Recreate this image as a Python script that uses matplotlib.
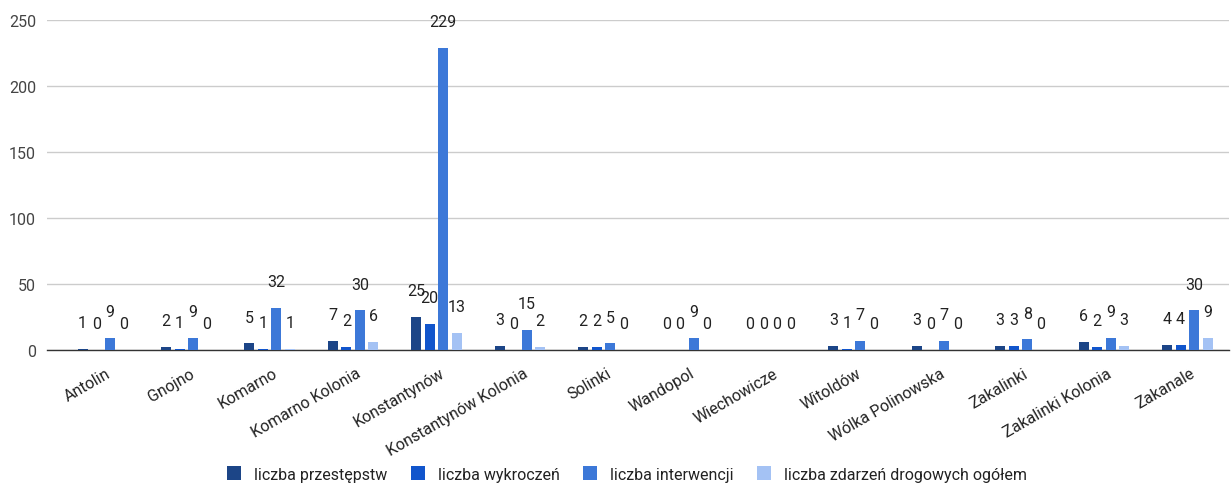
import matplotlib
matplotlib.use("Agg")
import matplotlib.pyplot as plt
import matplotlib.transforms as mtransforms
import numpy as np

categories = ["Antolin", "Gnojno", "Komarno", "Komarno Kolonia", "Konstantynów",
              "Konstantynów Kolonia", "Solinki", "Wandopol", "Wiechowicze", "Witoldów",
              "Wólka Polinowska", "Zakalinki", "Zakalinki Kolonia", "Zakanale"]
series_names = ["liczba przestępstw", "liczba wykroczeń", "liczba interwencji",
                "liczba zdarzeń drogowych ogółem"]
przestepstwa = [1, 2, 5, 7, 25, 3, 2, 0, 0, 3, 3, 3, 6, 4]
wykroczenia = [0, 1, 1, 2, 20, 0, 2, 0, 0, 1, 0, 3, 2, 4]
interwencje = [9, 9, 32, 30, 229, 15, 5, 9, 0, 7, 7, 8, 9, 30]
zdarzenia = [0, 0, 1, 6, 13, 2, 0, 0, 0, 0, 0, 0, 3, 9]
yticks = [0, 50, 100, 150, 200, 250]

colors = ["#1c4587", "#1155cc", "#3c78d8", "#a4c2f4"]
plt.rcParams['font.family'] = ['Roboto', 'DejaVu Sans']

fig = plt.figure(figsize=(12.32, 4.85), dpi=100)
ax = fig.add_axes([47/1232, 134/485, (1229-47)/1232, 330/485])

x = np.arange(len(categories))
slot = 0.162
width = 0.12
all_series = [przestepstwa, wykroczenia, interwencje, zdarzenia]
for i, (vals, name, c) in enumerate(zip(all_series, series_names, colors)):
    pos = x + (i - 1.5) * slot
    ax.bar(pos, vals, width=width, color=c, label=name, zorder=3)
    for px, v in zip(pos, vals):
        ax.annotate(str(v), (px, v), xytext=(0, 19), textcoords="offset points",
                    ha="center", va="center", fontsize=11.5, color="#222222", zorder=4)

ax.set_xlim(-0.67, 13.5)
ax.set_ylim(0, 250)
ax.set_yticks(yticks)
ax.set_yticklabels([str(t) for t in yticks], fontsize=11.5, color="#444444")
ax.yaxis.grid(True, color="#cccccc", linewidth=1, zorder=0)
ax.set_axisbelow(True)
for s in ["top", "right", "left"]:
    ax.spines[s].set_visible(False)
ax.spines["bottom"].set_color("#333333")
ax.spines["bottom"].set_linewidth(1)
ax.tick_params(axis="y", length=0, pad=8)
ax.tick_params(axis="x", length=0, pad=11)
ax.set_xticks(x)
ax.set_xticklabels(categories, rotation=30, ha="right", rotation_mode="anchor",
                   fontsize=11.5, color="#222222")

offset = mtransforms.ScaledTranslation(2/72, 0, fig.dpi_scale_trans)
for lbl in ax.get_xticklabels():
    lbl.set_transform(lbl.get_transform() + offset)

leg = fig.legend(loc="center", bbox_to_anchor=(627/1232, 1 - 475/485), ncol=4,
                 frameon=False, fontsize=11.5, handlelength=0.9, handleheight=0.9,
                 handletextpad=0.8, columnspacing=1.45)
for t in leg.get_texts():
    t.set_color("#222222")

fig.savefig("out.png", dpi=100)
